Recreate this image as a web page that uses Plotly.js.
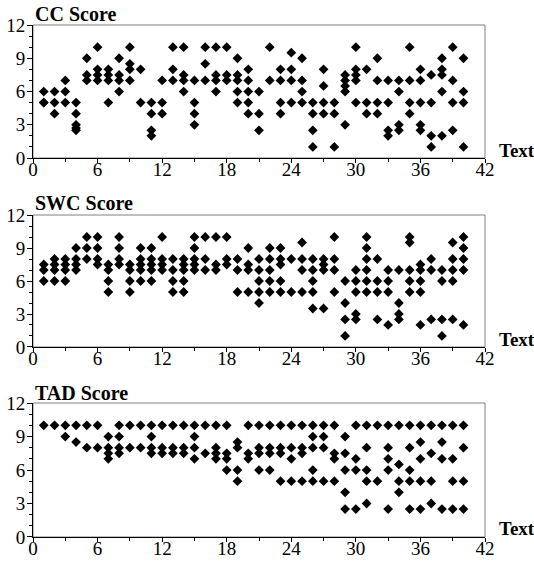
<!DOCTYPE html>
<html>
<head>
<meta charset="utf-8">
<script src="https://cdn.plot.ly/plotly-3.0.1.min.js"></script>
<style>html,body{margin:0;padding:0;background:#fff;}#chart{width:534px;height:561px;}</style>
</head>
<body>
<div id="chart"></div>
<script>
// Text numbers 1..40; each entry lists the scores plotted at that text
const panelTitles = ["CC Score", "SWC Score", "TAD Score"];
const xAxisLabel = "Text";
const xTickVals = [0, 6, 12, 18, 24, 30, 36, 42];
const yTickVals = [0, 3, 6, 9, 12];

const ccScores = [
  [6,5,5],[6,5,4],[7,6,5],[5,4,3,2.7,2.5],[9,7.5,7],[10,8,7.5,7],[8,7.5,7,5],[9,7.5,7,6],
  [10,8.5,8,7],[8,5],[5,4,2.5,2],[7,5,4],[10,8,7],[10,7.5,7,6],[7,5,4,3],[10,8.5,7],
  [10,7.5,7,6],[10,7.5,7],[9,7.5,7,6,5],[8,7,6,5,4],[6,4,2.5],[10,7],[8,7,5,4],[9.5,8,7,5],
  [9,7,6,5],[5,4,2.5,1],[8,6.5,5,4],[5,4,1],[7.5,7,6.5,6,3],[10,8,7.5,7,5],[8,5,4],[9,7,5,4],
  [7,5,2.5,2],[7,6,3,2.5],[10,7,5,4],[8,7,5,3,2.5],[7.5,5,2,1],[9,8,7.5,6,2],[10,7,5,2.5],[9,6,5,1]
];
const swcScores = [
  [7.5,7,6],[8,7.5,7,6],[8,7.5,7,6],[9,8,7.5,7],[10,9,8],[10,9,8,7.5],[7.5,7,6,5],[10,9,8,7.5],
  [7.5,7,6,5],[9,8,7.5,7,6],[9,8,7.5,7,6],[10,8,7.5,7],[8,7,6,5],[8,7.5,7,6,5],[10,9,8,7.5,7],[10,8,7],
  [10,7.5,7],[10,8,7.5],[8,7,5],[9,7.5,7,5],[8,7,6,5,4],[9,8,7,6,5],[9,8,7.5,6,5],[8,5],
  [9.5,8,7,5],[8,7,6,5,3.5],[8,7.5,7,3.5],[10,8,7,5],[6,4,2.5,1],[7,6,5,3,2.5],[10,9,8,7,6,5],[8,6,5,2.5],
  [7,6,5,2],[7,4,3,2.5],[10,9.5,7,6,5],[7.5,7,6,5,2],[8,7,2.5],[7,6,2.5,1],[9.5,8,7,6,2.5],[10,9,8,7,2]
];
const tadScores = [
  [10],[10],[10,9],[10,8.5],[10,8],[10,8],[9,8,7.5,7],[10,9,8,7.5],
  [10,8],[10,8],[10,9,8,7.5],[10,8,7.5],[10,8,7.5],[10,8,7.5],[10,9,8,7],[10,7.5],
  [10,8,7.5,7],[10,7.5,7,6],[8.5,8,6,5],[10,7.5,7],[10,8,7.5,6],[10,8,7.5,6],[10,8,7.5,5],[10,8,7,5],
  [10,8,7.5,5],[10,9,8,6,5],[10,9,8,5],[10,7.5,7,5],[9,7.5,6,4,2.5],[10,7,6,2.5],[10,8,6,5,3],[10,5],
  [10,8,7,6,2.5],[10,6.5,5,4],[10,8,6,5,2.5],[10,8.5,7,5,2.5],[10,7.5,5,3],[10,8.5,7,2.5],[10,7,5,2.5],[10,8,5,2.5]
];

function flatten(scores) {
  const xs = [], ys = [];
  scores.forEach((list, i) => list.forEach(v => { xs.push(i + 1); ys.push(v); }));
  return {xs, ys};
}

const FONT = "Liberation Serif, Times New Roman, serif";
const allScores = [ccScores, swcScores, tadScores];
const traces = allScores.map((s, k) => {
  const f = flatten(s);
  return {
    type: 'scatter', mode: 'markers', x: f.xs, y: f.ys,
    xaxis: k === 0 ? 'x' : 'x' + (k + 1), yaxis: k === 0 ? 'y' : 'y' + (k + 1),
    marker: {symbol: 'diamond', size: 7.5, color: '#000'},
    hoverinfo: 'x+y', showlegend: false
  };
});

// domains in paper coordinates
const domains = [[0.7402, 1.0], [0.3711, 0.6289], [0.0, 0.2617]];
const titleY = [1.0215, 0.6514, 0.2822];
const textY = [0.754, 0.385, 0.0175];

function xaxis(k) {
  return {
    domain: [0, 1], range: [0, 42], anchor: k === 0 ? 'y' : 'y' + (k + 1),
    tickmode: 'array', tickvals: xTickVals, ticks: 'outside', ticklen: 4, tickcolor: '#000',
    ticklabelstandoff: -10,
    minor: {dtick: 3, ticks: 'outside', ticklen: 3, tickcolor: '#000'},
    showline: true, linecolor: '#000', linewidth: 1, showgrid: false, zeroline: false,
    tickfont: {family: FONT, size: 19, color: '#000'}, fixedrange: true
  };
}
function yaxis(k) {
  return {
    domain: domains[k], range: [0, 12], anchor: k === 0 ? 'x' : 'x' + (k + 1),
    tickmode: 'array', tickvals: yTickVals, ticks: 'outside', ticklen: 5, tickcolor: '#000',
    ticklabelstandoff: -2,
    minor: {dtick: 1, ticks: 'outside', ticklen: 3, tickcolor: '#000'},
    showline: true, linecolor: '#000', linewidth: 1, showgrid: false, zeroline: false,
    tickfont: {family: FONT, size: 19, color: '#000'}, fixedrange: true
  };
}

const layout = {
  width: 534, height: 561,
  margin: {l: 33, r: 49, t: 25, b: 24},
  paper_bgcolor: '#fff', plot_bgcolor: '#fff',
  font: {family: FONT, color: '#000'},
  annotations: [], shapes: []
};
for (let k = 0; k < 3; k++) {
  const sx = k === 0 ? '' : String(k + 1);
  layout['xaxis' + sx] = xaxis(k);
  layout['yaxis' + sx] = yaxis(k);
  layout.shapes.push({type: 'rect', xref: 'x' + sx + ' domain', yref: 'y' + sx + ' domain',
    x0: 0, x1: 1, y0: 0, y1: 1, line: {color: '#808080', width: 1}, layer: 'below'});
  layout.annotations.push({text: '<b>' + panelTitles[k] + '</b>', xref: 'paper', yref: 'paper',
    x: 0, y: titleY[k], xanchor: 'left', yanchor: 'middle', showarrow: false,
    font: {family: FONT, size: 20, color: '#000'}});
  layout.annotations.push({text: '<b>' + xAxisLabel + '</b>', xref: 'paper', yref: 'paper',
    x: 1.0265, y: textY[k], xanchor: 'left', yanchor: 'middle', showarrow: false,
    font: {family: FONT, size: 19, color: '#000'}});
}

Plotly.newPlot('chart', traces, layout, {displayModeBar: false, staticPlot: true});
</script>
</body>
</html>
